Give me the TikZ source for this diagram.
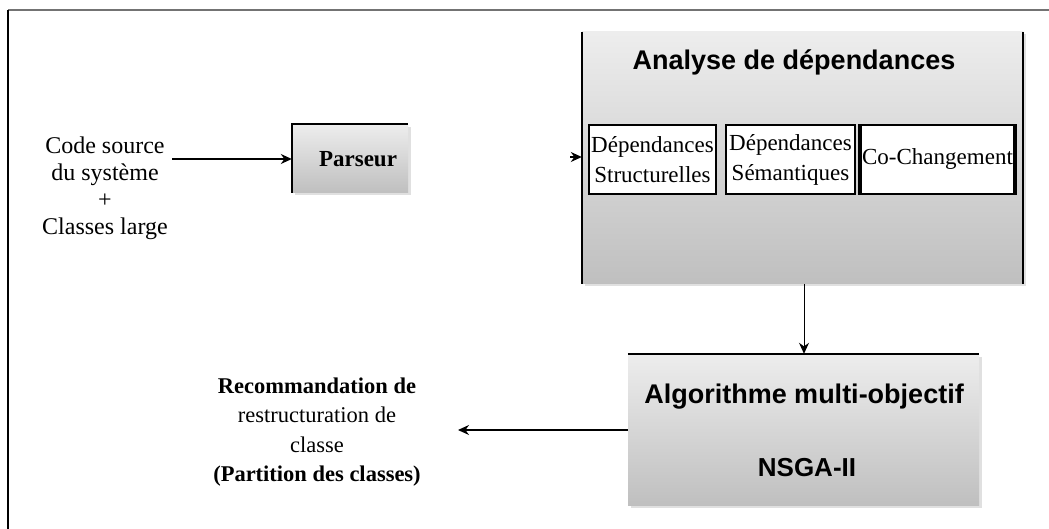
\documentclass[tikz,border=0pt]{standalone}
\usepackage{fontspec}
\setmainfont{Liberation Serif}
\newfontfamily\arialfont{Liberation Sans}
\usetikzlibrary{arrows.meta}

\tikzset{
  x=1pt, y=-1pt,
  arr/.style={line width=1.2pt, -{Stealth[length=11pt,width=10pt]}},
  grayblock/.style={inner sep=0pt, top color=black!7, bottom color=black!25},
  shadowbox/.style={inner sep=0pt, fill=black!12},
  subbox/.style={draw=black, line width=1.8pt, fill=white, inner sep=0pt,
    minimum height=69pt, align=center,
    font=\fontsize{23}{30}\selectfont},
  serif/.style={align=center, font=\fontsize{24}{27}\selectfont},
  titlefont/.style={font=\arialfont\bfseries\fontsize{27}{30}\selectfont},
}

\begin{document}
\begin{tikzpicture}
\useasboundingbox (0,0) rectangle (1049,529);
\fill[white] (0,0) rectangle (1049,529);

% outer frame (top and left edges only)
\draw[black!55, line width=1.5pt] (8,10) -- (1049,10);
\draw[black, line width=1.5pt] (8,10) -- (8,529);

% soft drop shadows behind the grey blocks
\node[shadowbox, minimum width=116pt, minimum height=68pt] at (352.5,161) {};
\node[shadowbox, minimum width=441pt, minimum height=252pt] at (805,160.5) {};
\node[shadowbox, minimum width=351pt, minimum height=151pt] at (806,432) {};

% input text
\node[serif] (src) at (105,188) {Code source\\du système\\+\\Classes large};

% parser block
\node[grayblock, minimum width=116pt, minimum height=68pt] (pars) at (350,158.5) {};
\node[font=\bfseries\fontsize{23}{26}\selectfont] (parst) at (358,159) {Parseur};
\draw[black, line width=2.2pt] (pars.south west) -- (pars.north west) -- (pars.north east);

% dependency analysis block
\node[grayblock, minimum width=441pt, minimum height=252pt] (an) at (802.5,158) {};
\draw[black, line width=2pt] (an.north west) -- (an.south west);
\draw[black, line width=2pt] (an.north east) -- (an.south east);
\node[titlefont] (antitle) at (794,62) {Analyse de dépendances};

\node[subbox, minimum width=127pt] (struct) at (652.5,159.5) {Dépendances\\Structurelles};
\node[subbox, minimum width=129pt] (sem) at (790.5,159.5) {Dépendances\\Sémantiques};
\node[subbox, minimum width=155pt] (cochg) at (937.5,159.5) {Co-Changement};
\draw[black, line width=4pt] ([xshift=1pt]cochg.north west) -- ([xshift=1pt]cochg.south west);
\draw[black, line width=4pt] ([xshift=-1pt]cochg.north east) -- ([xshift=-1pt]cochg.south east);

% multi-objective algorithm block
\node[grayblock, minimum width=351pt, minimum height=151pt] (ns) at (803.5,429.5) {};
\draw[black, line width=2pt] (ns.north west) -- (ns.north east);
\node[titlefont] (nstitle) at (804,397) {Algorithme multi-objectif};
\node[font=\arialfont\bfseries\fontsize{26}{30}\selectfont] (nsga) at (807,468) {NSGA-II};

% output text
\node[align=center, font=\fontsize{22.5}{29.5}\selectfont] (out) at (317,432) {%
  \textbf{Recommandation de}\\
  restructuration de\\
  classe\\
  \textbf{(Partition des classes)}};

% connectors
\coordinate (srcEnd) at (172,159);
\draw[arr] (srcEnd) -- (pars.west |- srcEnd);

\coordinate (anIn) at (570,157);
\draw[arr] (anIn) -- (an.west |- anIn);

\coordinate (anOut) at (804,284);
\draw[arr, line width=1pt] (anOut) -- (anOut |- ns.north);

\coordinate (outTip) at (458,430);
\draw[arr] (ns.west |- outTip) -- (outTip);
\end{tikzpicture}
\end{document}
